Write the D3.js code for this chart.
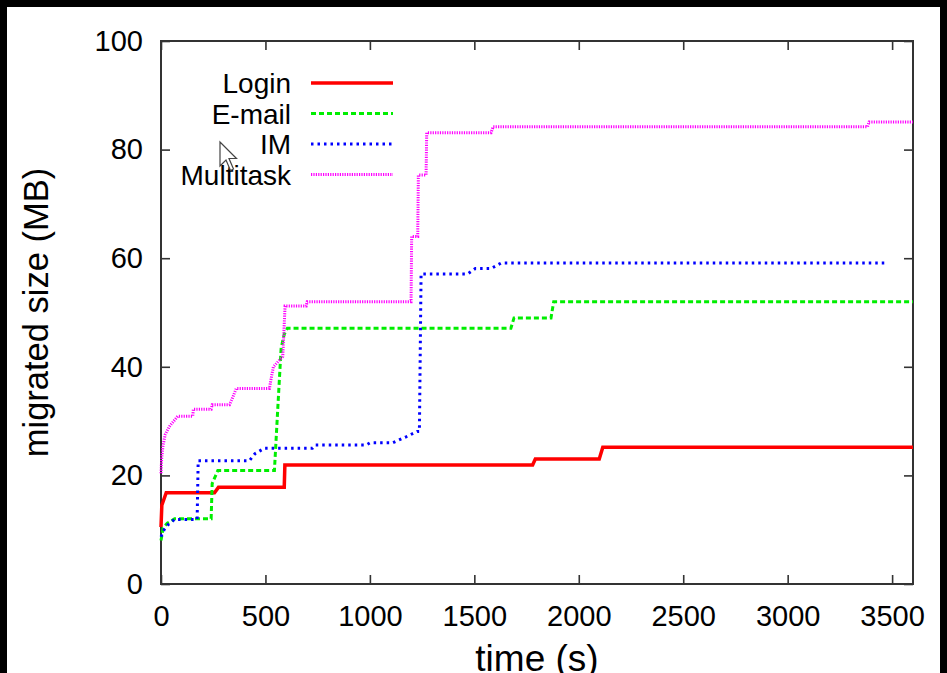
<!DOCTYPE html>
<html>
<head>
<meta charset="utf-8">
<script src="https://cdn.jsdelivr.net/npm/d3@7"></script>
<style>
  body { margin: 0; background: #000; }
  svg { display: block; }
  text { font-family: "Liberation Sans", Arial, sans-serif; fill: #000; }
</style>
</head>
<body>
<div id="chart"></div>
<script>
// readings [time (s), migrated size (MB)]
var loginData = [[0,10.5],[4,14.5],[25,16.8],[256,16.8],[275,17.8],[590,17.8],[593,21.9],
  [1779,21.9],[1792,23],[2098,23],[2115,25.2],[3600,25.2]];
var emailData = [[0,8],[10,10.3],[30,11.2],[65,12],[240,12],[245,18.5],[272,20.9],[543,20.9],
  [560,33],[575,43.4],[590,46],[605,47.1],[1675,47.1],[1690,49],[1867,49],[1880,52],[3600,52]];
var imData = [[0,8.7],[15,10],[33,10.9],[65,11.9],[173,11.9],[178,22.7],[423,22.7],[450,24],
  [495,25],[725,25],[740,25.6],[982,25.6],[1000,26],[1108,26],[1173,27.1],[1227,28.1],
  [1237,28.1],[1245,57.1],[1468,57.1],[1505,58.1],[1580,58.1],[1628,59.1],[3476,59.1]];
var multiData = [[0,20.4],[3,23],[9,25.3],[20,27.5],[40,29],[80,30.9],[152,30.9],[155,32.2],
  [240,32.2],[245,33],[328,33],[345,34.5],[360,36],[519,36],[529,38.2],[538,40],[583,41.9],
  [585,43.7],[594,51.2],[695,51.2],[700,52],[1197,52],[1200,64],[1229,64],[1232,75.3],
  [1269,75.3],[1272,83.1],[1580,83.1],[1590,84.2],[3382,84.2],[3390,85.1],[3600,85.1]];

var seriesNames = ["Login", "E-mail", "IM", "Multitask"];
var seriesData = [loginData, emailData, imData, multiData];
var xTicks = [0, 500, 1000, 1500, 2000, 2500, 3000, 3500];
var yTicks = [0, 20, 40, 60, 80, 100];

var styles = [
  { color: "#ff0000", width: 3.5, dash: null },
  { color: "#00ee00", width: 3, dash: "5,3" },
  { color: "#0000ff", width: 3, dash: "2.5,4" },
  { color: "#ff00ff", width: 3, dash: "1.2,1.2" }
];

var W = 947, H = 673;
var plotLeft = 161, plotRight = 913, plotTop = 41, plotBottom = 584;

var svg = d3.select("#chart").append("svg")
  .attr("width", W)
  .attr("height", H);

// white page area inside the black screen border
svg.append("rect")
  .attr("x", 7).attr("y", 7)
  .attr("width", W - 14).attr("height", H - 7)
  .attr("fill", "#fff");

var x = d3.scaleLinear().domain([0, 3600]).range([plotLeft, plotRight]);
var y = d3.scaleLinear().domain([0, 100]).range([plotBottom, plotTop]);
var fmt = d3.format("d");

function styleAxis(g) {
  g.selectAll("path.domain").remove();
  g.selectAll("line").attr("stroke", "#333").attr("stroke-width", 1.6);
  g.selectAll("text")
    .attr("font-family", "Liberation Sans, Arial, sans-serif")
    .style("font-size", "29px")
    .attr("fill", "#000");
}

svg.append("g")
  .attr("transform", "translate(0," + plotBottom + ")")
  .call(d3.axisBottom(x).tickValues(xTicks).tickFormat(fmt).tickSizeInner(-9).tickSizeOuter(0).tickPadding(21))
  .call(styleAxis);
svg.append("g")
  .attr("transform", "translate(0," + plotTop + ")")
  .call(d3.axisTop(x).tickValues(xTicks).tickSizeInner(-9).tickSizeOuter(0).tickFormat(""))
  .call(styleAxis);
svg.append("g")
  .attr("transform", "translate(" + plotLeft + ",0)")
  .call(d3.axisLeft(y).tickValues(yTicks).tickFormat(fmt).tickSizeInner(-9).tickSizeOuter(0).tickPadding(18))
  .call(styleAxis);
svg.append("g")
  .attr("transform", "translate(" + plotRight + ",0)")
  .call(d3.axisRight(y).tickValues(yTicks).tickSizeInner(-9).tickSizeOuter(0).tickFormat(""))
  .call(styleAxis);

// frame
svg.append("rect")
  .attr("x", plotLeft).attr("y", plotTop)
  .attr("width", plotRight - plotLeft).attr("height", plotBottom - plotTop)
  .attr("fill", "none")
  .attr("stroke", "#333")
  .attr("stroke-width", 2);

var line = d3.line()
  .x(function(d) { return x(d[0]); })
  .y(function(d) { return y(d[1]); });

seriesData.forEach(function(data, i) {
  svg.append("path")
    .datum(data)
    .attr("d", line)
    .attr("fill", "none")
    .attr("stroke", styles[i].color)
    .attr("stroke-width", styles[i].width)
    .attr("stroke-dasharray", styles[i].dash)
    .attr("stroke-linejoin", "miter");
});

// legend
var legend = svg.append("g");
seriesNames.forEach(function(name, i) {
  var ly = 83 + i * 30.5;
  legend.append("text")
    .attr("x", 291)
    .attr("y", ly + 10)
    .attr("text-anchor", "end")
    .style("font-size", "28px")
    .text(name);
  legend.append("line")
    .attr("x1", 311).attr("x2", 393)
    .attr("y1", ly).attr("y2", ly)
    .attr("stroke", styles[i].color)
    .attr("stroke-width", styles[i].width)
    .attr("stroke-dasharray", styles[i].dash);
});

// axis titles (the bottom one is clipped by the window, as in the screenshot)
svg.append("text")
  .attr("x", (plotLeft + plotRight) / 2)
  .attr("y", 671)
  .attr("text-anchor", "middle")
  .style("font-size", "37px")
  .text("time (s)");

svg.append("text")
  .attr("transform", "translate(48," + (plotTop + plotBottom) / 2 + ") rotate(-90)")
  .attr("text-anchor", "middle")
  .style("font-size", "34.5px")
  .text("migrated size (MB)");

// mouse pointer captured in the screenshot
svg.append("path")
  .attr("transform", "translate(220,142) scale(1.5)")
  .attr("d", "M0,0 L0,16 L4,12 L7,19 L9,18 L6,11 L11,11 Z")
  .attr("fill", "#fff")
  .attr("stroke", "#444")
  .attr("stroke-width", 0.8);
</script>
</body>
</html>
